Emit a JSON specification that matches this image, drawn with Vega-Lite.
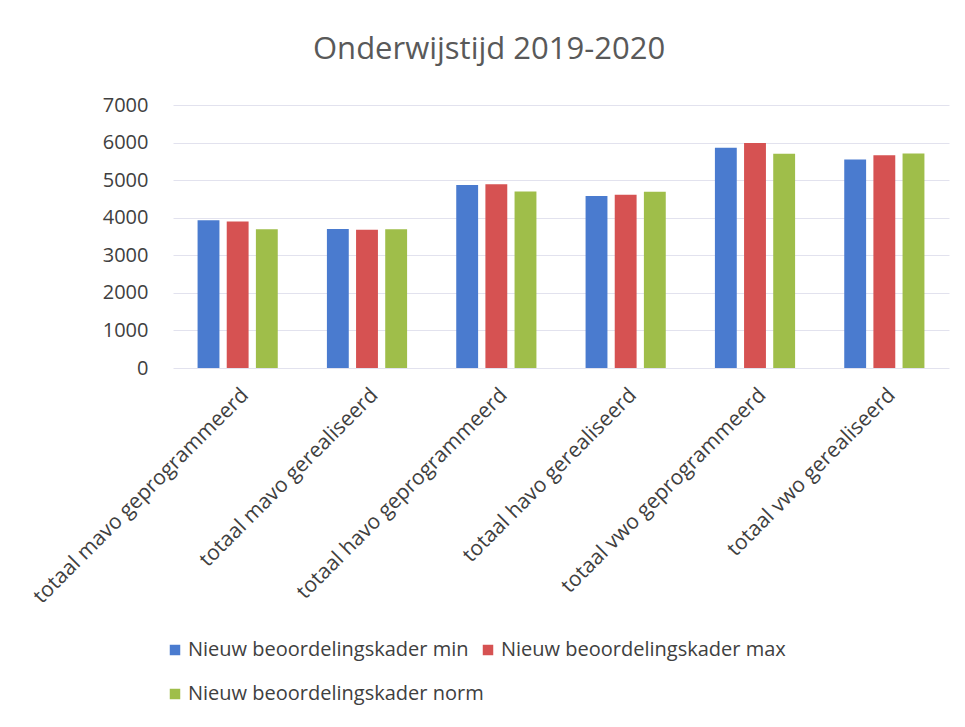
{
  "$schema": "https://vega.github.io/schema/vega-lite/v6.json",
  "width": 776,
  "height": 263,
  "padding": {"left": 29, "top": 34, "right": 10, "bottom": 10},
  "background": "white",
  "title": {
    "text": "Onderwijstijd 2019-2020",
    "font": "Open Sans",
    "fontSize": 31,
    "fontWeight": "normal",
    "color": "#595959",
    "anchor": "middle",
    "frame": "bounds",
    "offset": 29
  },
  "data": {
    "values": [
      {"categorie": "totaal mavo geprogrammeerd", "reeks": "Nieuw beoordelingskader min", "waarde": 3930},
      {"categorie": "totaal mavo geprogrammeerd", "reeks": "Nieuw beoordelingskader max", "waarde": 3900},
      {"categorie": "totaal mavo geprogrammeerd", "reeks": "Nieuw beoordelingskader norm", "waarde": 3690},
      {"categorie": "totaal mavo gerealiseerd", "reeks": "Nieuw beoordelingskader min", "waarde": 3700},
      {"categorie": "totaal mavo gerealiseerd", "reeks": "Nieuw beoordelingskader max", "waarde": 3680},
      {"categorie": "totaal mavo gerealiseerd", "reeks": "Nieuw beoordelingskader norm", "waarde": 3690},
      {"categorie": "totaal havo geprogrammeerd", "reeks": "Nieuw beoordelingskader min", "waarde": 4870},
      {"categorie": "totaal havo geprogrammeerd", "reeks": "Nieuw beoordelingskader max", "waarde": 4890},
      {"categorie": "totaal havo geprogrammeerd", "reeks": "Nieuw beoordelingskader norm", "waarde": 4700},
      {"categorie": "totaal havo gerealiseerd", "reeks": "Nieuw beoordelingskader min", "waarde": 4580},
      {"categorie": "totaal havo gerealiseerd", "reeks": "Nieuw beoordelingskader max", "waarde": 4610},
      {"categorie": "totaal havo gerealiseerd", "reeks": "Nieuw beoordelingskader norm", "waarde": 4690},
      {"categorie": "totaal vwo geprogrammeerd", "reeks": "Nieuw beoordelingskader min", "waarde": 5860},
      {"categorie": "totaal vwo geprogrammeerd", "reeks": "Nieuw beoordelingskader max", "waarde": 5990},
      {"categorie": "totaal vwo geprogrammeerd", "reeks": "Nieuw beoordelingskader norm", "waarde": 5700},
      {"categorie": "totaal vwo gerealiseerd", "reeks": "Nieuw beoordelingskader min", "waarde": 5550},
      {"categorie": "totaal vwo gerealiseerd", "reeks": "Nieuw beoordelingskader max", "waarde": 5660},
      {"categorie": "totaal vwo gerealiseerd", "reeks": "Nieuw beoordelingskader norm", "waarde": 5710}
    ]
  },
  "mark": {"type": "bar"},
  "encoding": {
    "x": {
      "field": "categorie",
      "type": "nominal",
      "sort": null,
      "title": null,
      "scale": {"paddingInner": 0.38, "paddingOuter": 0.19},
      "axis": {
        "labelAngle": -45,
        "labelFont": "Open Sans",
        "labelFontSize": 21,
        "labelColor": "#404040",
        "labelPadding": 16,
        "labelLimit": 400,
        "ticks": false,
        "domain": false
      }
    },
    "xOffset": {
      "field": "reeks",
      "type": "nominal",
      "sort": ["Nieuw beoordelingskader min", "Nieuw beoordelingskader max", "Nieuw beoordelingskader norm"],
      "scale": {"paddingInner": 0.25, "paddingOuter": 0}
    },
    "y": {
      "field": "waarde",
      "type": "quantitative",
      "title": null,
      "scale": {"domain": [0, 7000], "nice": false},
      "axis": {
        "values": [0, 1000, 2000, 3000, 4000, 5000, 6000, 7000],
        "format": "d",
        "labelFont": "Open Sans",
        "labelFontSize": 20,
        "labelColor": "#404040",
        "labelPadding": 25,
        "ticks": false,
        "domain": false,
        "gridColor": "#E2E2EE",
        "gridWidth": 1
      }
    },
    "color": {
      "field": "reeks",
      "type": "nominal",
      "title": null,
      "scale": {
        "domain": ["Nieuw beoordelingskader min", "Nieuw beoordelingskader max", "Nieuw beoordelingskader norm"],
        "range": ["#4A7BCF", "#D65252", "#9FBE4A"]
      },
      "legend": {
        "orient": "none",
        "direction": "horizontal",
        "legendX": -8,
        "legendY": 535,
        "columns": 2,
        "gridAlign": "none",
        "columnPadding": -6,
        "rowPadding": 24,
        "symbolType": "square",
        "symbolSize": 110,
        "symbolStrokeWidth": 0,
        "labelOffset": 3,
        "labelFont": "Open Sans",
        "labelFontSize": 20,
        "labelColor": "#404040",
        "labelLimit": 400
      }
    }
  },
  "config": {
    "view": {"stroke": null}
  }
}
